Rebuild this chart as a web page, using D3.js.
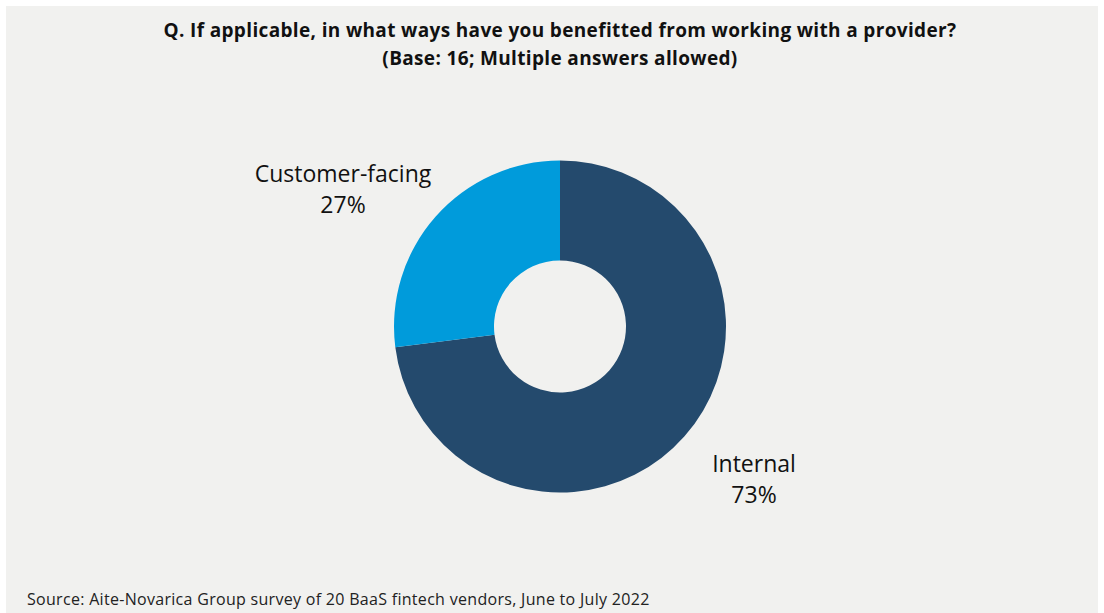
<!DOCTYPE html>
<html><head><meta charset="utf-8">
<script src="https://cdn.jsdelivr.net/npm/d3@7"></script>
<style>html,body{margin:0;padding:0;background:#fff;}</style>
</head><body>
<svg id="chart" width="1104" height="613"></svg>
<script>
const categories = ["Internal", "Customer-facing"];
const values = [73, 27];
const colors = ["#244a6d", "#009bdb"];
const titleLines = ["Q. If applicable, in what ways have you benefitted from working with a provider?", "(Base: 16; Multiple answers allowed)"];
const source = "Source: Aite-Novarica Group survey of 20 BaaS fintech vendors, June to July 2022";

const svg = d3.select("#chart");
svg.append("rect").attr("x", 6).attr("y", 6).attr("width", 1092).attr("height", 607).attr("fill", "#f1f1ef");

svg.selectAll("text.title").data(titleLines).join("text")
  .attr("class", "title")
  .attr("x", 560).attr("y", (d, i) => 37 + i * 28)
  .attr("text-anchor", "middle")
  .style("font-family", "'Open Sans', sans-serif").style("font-weight", "bold").style("font-size", "19px")
  .style("letter-spacing", "0.35px")
  .attr("fill", "#111").text(d => d);

const cx = 560, cy = 326.5, R = 166, r = 66;
const pie = d3.pie().sort(null).value(d => d.v);
const data = pie(categories.map((c, i) => ({c, v: values[i], col: colors[i]})));
const arc = d3.arc().innerRadius(r).outerRadius(R);
const g = svg.append("g").attr("transform", `translate(${cx},${cy})`);
g.selectAll("path").data(data).join("path").attr("d", arc).attr("fill", d => d.data.col);

const labelPos = {"Internal": [754, 472], "Customer-facing": [343, 182]};
data.forEach(d => {
  const [x, y] = labelPos[d.data.c];
  const t = svg.append("text").attr("text-anchor", "middle")
    .style("font-family", "'Open Sans', sans-serif").style("font-size", "23px").attr("fill", "#111");
  t.append("tspan").attr("x", x).attr("y", y).text(d.data.c);
  t.append("tspan").attr("x", x).attr("y", y + 31).text(Math.round(d.data.v) + "%");
});

svg.append("text").attr("x", 27).attr("y", 605)
  .style("font-family", "'Open Sans', sans-serif").style("font-size", "16px").style("letter-spacing", "0.3px").attr("fill", "#222")
  .text(source);
</script>
</body></html>
